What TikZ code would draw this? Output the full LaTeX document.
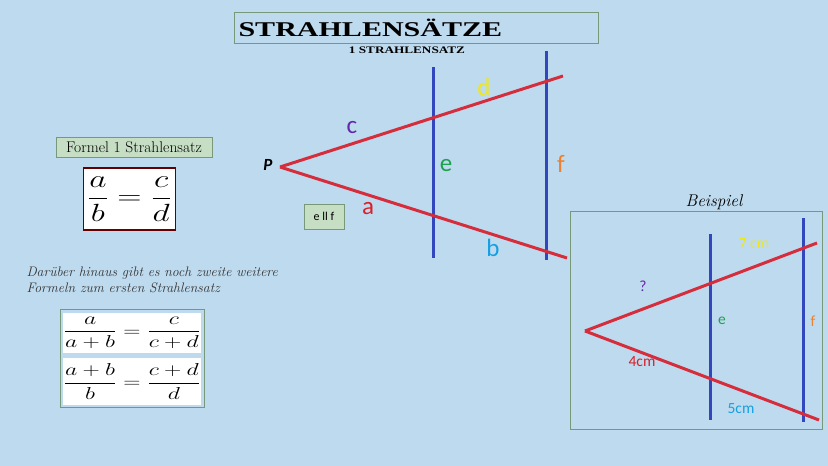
\documentclass[tikz,border=0pt]{standalone}
\usepackage{fontspec}
\usepackage{amsmath}
\usepackage{graphicx}
\newfontfamily\titlefont{Liberation Serif}
\newfontfamily\labelfont{Carlito}
\definecolor{bgblue}{RGB}{190,218,238}
\definecolor{rayred}{RGB}{214,45,60}
\definecolor{parblue}{RGB}{50,70,190}
\definecolor{boxgreen}{RGB}{198,222,196}
\definecolor{framegreen}{RGB}{120,152,122}
\definecolor{clabel}{RGB}{100,40,170}
\definecolor{dlabel}{RGB}{240,232,20}
\definecolor{elabel}{RGB}{30,160,80}
\definecolor{flabel}{RGB}{235,130,50}
\definecolor{alabel}{RGB}{220,30,40}
\definecolor{blabel}{RGB}{20,160,225}

\begin{document}
\begin{tikzpicture}
  [x=1pt,y=-1pt,
   ray/.style={rayred,line width=3pt},
   par/.style={parblue,line width=3pt},
   lbl/.style={font=\labelfont\fontsize{25}{25}\selectfont},
   smalllbl/.style={font=\labelfont\fontsize{15.5}{15.5}\selectfont},
   greenbox/.style={draw=framegreen,fill=boxgreen,inner sep=0pt}]
  \fill[bgblue] (0,0) rectangle (828,466);
  \useasboundingbox (0,0) rectangle (828,466);

  % title
  \node[draw=framegreen,line width=1pt,minimum width=364pt,minimum height=31pt,
        inner sep=0pt] (titlebox) at (416,27.5) {};
  \node[anchor=west,font=\titlefont\bfseries\fontsize{21}{21}\selectfont] (title)
    at (235,28) {\scalebox{1.43}[1]{STRAHLENSÄTZE}};
  \node[font=\titlefont\bfseries\fontsize{10}{10}\selectfont] (subtitle)
    at (407,50) {\scalebox{1.32}[1]{1 STRAHLENSATZ}};

  % main figure
  \coordinate (P) at (280,167);
  \coordinate (u) at (563,76);
  \coordinate (l) at (567,258);
  \coordinate (e1) at (433,67);
  \coordinate (e2) at (433,258);
  \coordinate (f1) at (546,51);
  \coordinate (f2) at (546,260);
  \foreach \from/\to in {e1/e2,f1/f2}
    \draw[par] (\from) -- (\to);
  \foreach \from/\to in {P/u,P/l}
    \draw[ray] (\from) -- (\to);

  \node[font=\labelfont\bfseries\itshape\fontsize{17}{17}\selectfont] (pl) at (268,165) {P};
  \node[lbl,clabel] (cl) at (352,128) {c};
  \node[lbl,dlabel] (dl) at (484,87) {d};
  \node[lbl,elabel] (el) at (446,166) {e};
  \node[lbl,flabel] (fl) at (561,164) {f};
  \node[lbl,alabel] (al) at (368,209) {a};
  \node[lbl,blabel] (bl) at (493,248) {b};
  \node[greenbox,minimum width=40pt,minimum height=25pt,
        font=\labelfont\fontsize{12}{12}\selectfont] (par) at (324,216.5) {e ll f};

  % formulas
  \node[greenbox,minimum width=156pt,minimum height=20pt,
        font=\fontsize{15.5}{15}\selectfont] (formel) at (134,147) {Formel 1 Strahlensatz};
  \node[draw=red!40!black,line width=1.2pt,fill=white,
        minimum width=92pt,minimum height=62pt,inner sep=0pt,
        font=\fontsize{26}{30}\selectfont] (f1box) at (129.5,199)
    {\scalebox{1.35}[1]{$\displaystyle\frac{a}{b}=\frac{c}{d}$}};

  \node[anchor=west,align=left,font=\itshape\fontsize{13.8}{16}\selectfont,
        text=black!80] (hint) at (23,280)
    {Darüber hinaus gibt es noch zweite weitere\\Formeln zum ersten Strahlensatz};

  \node[draw=framegreen,line width=1pt,minimum width=144pt,minimum height=98pt,
        inner sep=0pt] (f2box) at (132,358) {};
  \node[fill=white,minimum width=138pt,minimum height=40pt,inner sep=0pt,
        font=\fontsize{18}{20}\selectfont] (row1) at (132,333)
    {\scalebox{1.38}[1]{$\displaystyle\frac{a}{a+b}=\frac{c}{c+d}$}};
  \node[fill=white,minimum width=138pt,minimum height=47pt,inner sep=0pt,
        font=\fontsize{18}{20}\selectfont] (row2) at (132,381.5)
    {\scalebox{1.38}[1]{$\displaystyle\frac{a+b}{b}=\frac{c+d}{d}$}};

  % example
  \node[draw=framegreen,line width=1pt,minimum width=252pt,minimum height=218pt,
        inner sep=0pt] (bsp) at (696,320) {};
  \node[font=\itshape\fontsize{17}{17}\selectfont] (bsptitle) at (714,202) {Beispiel};
  \coordinate (Q) at (585,331);
  \coordinate (qu) at (817,243);
  \coordinate (ql) at (819,420);
  \coordinate (g1) at (710,234);
  \coordinate (g2) at (710,420);
  \coordinate (h1) at (803,218);
  \coordinate (h2) at (803,422);
  \foreach \from/\to in {g1/g2,h1/h2}
    \draw[par] (\from) -- (\to);
  \foreach \from/\to in {Q/qu,Q/ql}
    \draw[ray] (\from) -- (\to);
  \node[smalllbl,dlabel] (sieben) at (754,244) {7 cm};
  \node[smalllbl,clabel] (frage) at (643,286) {?};
  \node[smalllbl,elabel] (ebsp) at (722,321) {e};
  \node[smalllbl,flabel] (fbsp) at (813,321) {f};
  \node[smalllbl,alabel] (vier) at (642,362) {4cm};
  \node[smalllbl,blabel] (fuenf) at (741,409) {5cm};
\end{tikzpicture}
\end{document}
